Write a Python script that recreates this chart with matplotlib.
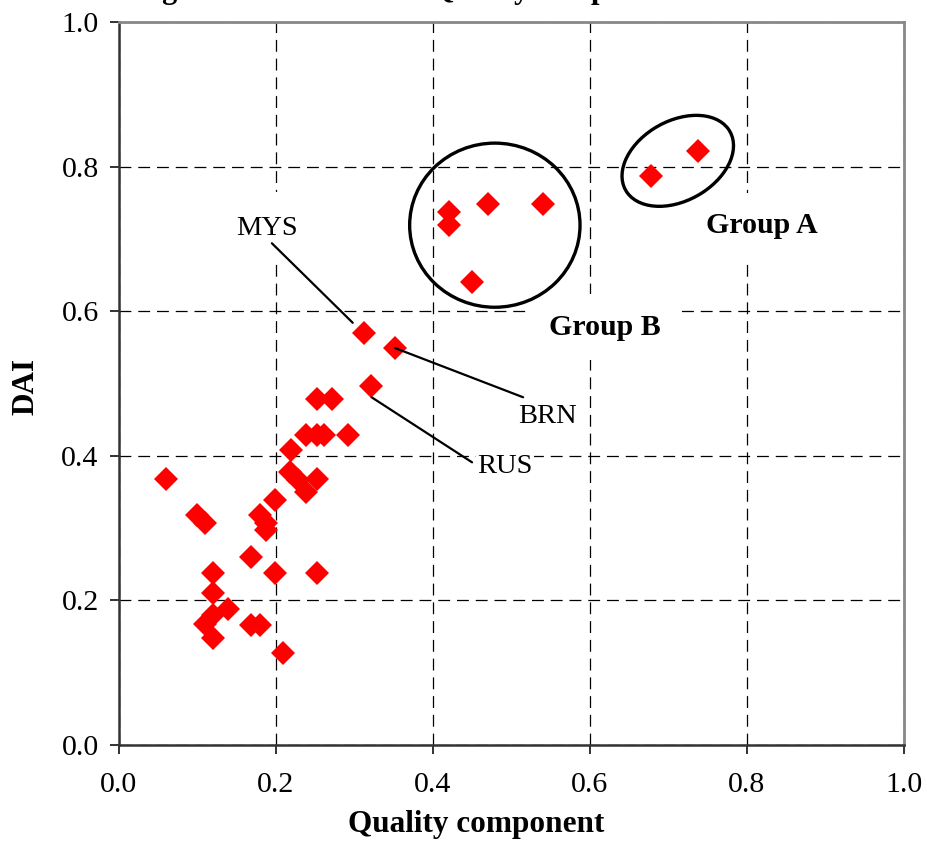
import matplotlib
matplotlib.use("Agg")
import matplotlib.pyplot as plt
from matplotlib.patches import Ellipse

plt.rcParams["font.family"] = ["Liberation Serif", "DejaVu Serif"]

# ---------------------------------------------------
# data (Quality component vs DAI)
# ---------------------------------------------------
quality = [0.678, 0.738,
           0.42, 0.42, 0.47, 0.54, 0.45,
           0.312, 0.352, 0.321,
           0.252, 0.271, 0.238, 0.252, 0.262, 0.292, 0.219,
           0.060, 0.218, 0.228, 0.239, 0.252, 0.199,
           0.099, 0.110, 0.180, 0.188, 0.188, 0.169,
           0.120, 0.199, 0.252, 0.120, 0.139,
           0.110, 0.120, 0.120, 0.169, 0.180, 0.209]
dai = [0.787, 0.822,
       0.737, 0.719, 0.748, 0.748, 0.640,
       0.570, 0.549, 0.497,
       0.479, 0.479, 0.429, 0.429, 0.429, 0.429, 0.408,
       0.368, 0.378, 0.367, 0.350, 0.368, 0.339,
       0.318, 0.307, 0.318, 0.307, 0.297, 0.260,
       0.238, 0.238, 0.238, 0.210, 0.188,
       0.167, 0.180, 0.148, 0.166, 0.166, 0.127]

# labelled countries
labels = ["MYS", "BRN", "RUS"]
label_txt = [(0.189, 0.715), (0.546, 0.455), (0.492, 0.385)]
line_start = [(0.195, 0.694), (0.515, 0.481), (0.450, 0.391)]
line_end = [(0.298, 0.584), (0.352, 0.549), (0.322, 0.481)]
label_pad = [17, 1, 1]

ticks = [0.0, 0.2, 0.4, 0.6, 0.8, 1.0]
tick_labels = ["0.0", "0.2", "0.4", "0.6", "0.8", "1.0"]

fig = plt.figure(figsize=(9.28, 8.47), dpi=100)
ax = fig.add_axes([0.128, 0.1204, 0.846, 0.8536])

ax.grid(True, color="black", linestyle=(0, (9.5, 5.5)), linewidth=0.9)
ax.set_axisbelow(True)

ax.plot(quality, dai, linestyle="none", marker="D", color="#ff0000",
        markersize=12.5, markeredgewidth=0, zorder=3)

# group outlines
ax.add_patch(Ellipse((0.479, 0.719), 0.217, 0.227, fill=False,
                     edgecolor="black", linewidth=2.4, zorder=4))
ax.add_patch(Ellipse((0.712, 0.808), 0.156, 0.108, angle=35, fill=False,
                     edgecolor="black", linewidth=2.4, zorder=4))

ax.text(0.819, 0.718, "Group A", fontsize=21.5, fontweight="bold",
        ha="center", va="center", zorder=2.5,
        bbox=dict(facecolor="white", edgecolor="none", pad=14))
ax.text(0.619, 0.578, "Group B", fontsize=21.5, fontweight="bold",
        ha="center", va="center", zorder=2.5,
        bbox=dict(facecolor="white", edgecolor="none", pad=14))

for name, txt, p0, p1, pad in zip(labels, label_txt, line_start, line_end, label_pad):
    ax.text(txt[0], txt[1], name, fontsize=20.5, ha="center", va="center",
            zorder=2.5, bbox=dict(facecolor="white", edgecolor="none", pad=pad))
    ax.annotate("", xy=p1, xytext=p0,
                arrowprops=dict(arrowstyle="-", color="black", linewidth=1.6,
                                shrinkA=0, shrinkB=0), zorder=4)

ax.set_xlim(0, 1)
ax.set_ylim(0, 1)
ax.set_xticks(ticks)
ax.set_xticklabels(tick_labels)
ax.set_yticks(ticks)
ax.set_yticklabels(tick_labels)
ax.tick_params(labelsize=21.5, length=6.5, width=1.3, color="#222222")
ax.tick_params(axis="x", pad=13)
ax.tick_params(axis="y", pad=8)

for side in ["left", "bottom"]:
    ax.spines[side].set_color("#333333")
    ax.spines[side].set_linewidth(1.8)
for side in ["top", "right"]:
    ax.spines[side].set_color("#888888")
    ax.spines[side].set_linewidth(2)

fig.text(476 / 928, 1 - 824 / 847, "Quality component", fontsize=22.5,
         fontweight="bold", ha="center", va="center")
fig.text(26 / 928, 1 - 386 / 847, "DAI", fontsize=22.5, fontweight="bold",
         rotation=90, ha="center", va="center")

# title is cut off at the top edge of the reference picture
fig.text(135 / 928, 1 + 2 / 847, "Figure 4: DAI and the Quality component",
         fontsize=22, fontweight="bold", ha="left", va="baseline")

fig.savefig("out.png", dpi=100)
